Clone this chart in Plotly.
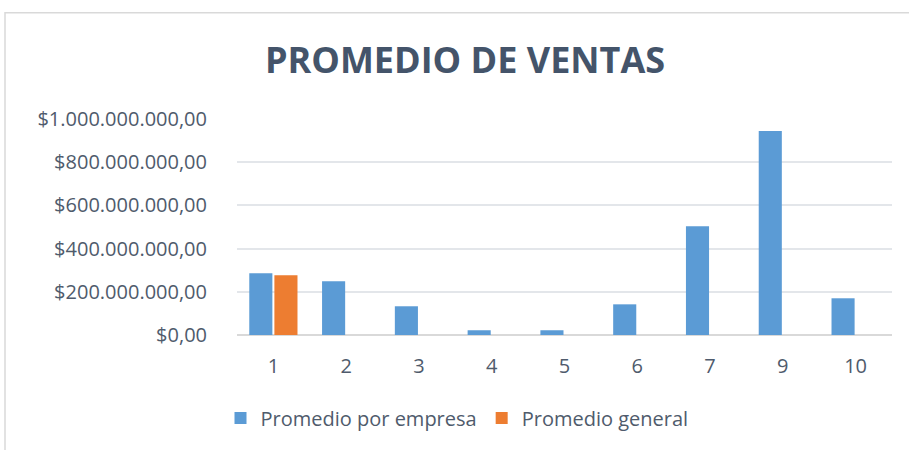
import plotly.graph_objects as go

categorias = ["1", "2", "3", "4", "5", "6", "7", "9", "10"]
promedio_empresa = [286e6, 249e6, 133e6, 22e6, 22e6, 142e6, 504e6, 945e6, 170e6]
promedio_general = [277e6, None, None, None, None, None, None, None, None]
tick_vals = [0, 200e6, 400e6, 600e6, 800e6, 1000e6]
tick_text = ["$0,00", "$200.000.000,00", "$400.000.000,00", "$600.000.000,00",
             "$800.000.000,00", "$1.000.000.000,00"]

text_color = "#4f5b6c"
font_family = "Open Sans"

fig = go.Figure()

fig.add_trace(go.Bar(
    x=categorias, y=promedio_empresa, name="Promedio por empresa",
    marker=dict(color="#5b9bd5", line=dict(width=0))
))
fig.add_trace(go.Bar(
    x=categorias, y=promedio_general, name="Promedio general",
    marker=dict(color="#ed7d31", line=dict(width=0))
))

# outer chart border
fig.add_shape(
    type="rect", xref="paper", yref="paper",
    x0=-232 / 655, x1=1.5, y0=-1.0, y1=(334.7 - 13) / 215.7,
    line=dict(color="#d9d9d9", width=1.5), layer="below"
)

fig.update_layout(
    width=909, height=450,
    margin=dict(l=237, r=17, t=119, b=115),
    paper_bgcolor="white", plot_bgcolor="white",
    barmode="group", bargap=0.31, bargroupgap=0.08,
    font=dict(family=font_family, color=text_color, size=20),
    title=dict(
        text="<b>PROMEDIO DE VENTAS</b>",
        x=465 / 909, xanchor="center", xref="container",
        y=1 - 60 / 450, yanchor="middle", yref="container",
        font=dict(family=font_family, size=36, color="#44546a")
    ),
    legend=dict(
        orientation="h", xref="container", yref="container",
        x=457 / 909, xanchor="center", y=1 - 418 / 450, yanchor="middle",
        font=dict(size=20, color=text_color), itemwidth=30,
        traceorder="normal"
    ),
    showlegend=True
)

fig.update_yaxes(
    range=[0, 1000e6], tickvals=tick_vals, ticktext=tick_text,
    showgrid=True, gridcolor="#e3e6ea", gridwidth=1.5,
    zeroline=True, zerolinecolor="#d9d9d9", zerolinewidth=1.5,
    showline=False, ticks="", ticklabelstandoff=29,
    tickfont=dict(size=20, color=text_color)
)
fig.update_xaxes(
    showgrid=False, showline=False, ticks="", ticklabelstandoff=17,
    tickfont=dict(size=20, color=text_color)
)

fig.write_html("out.html", config={"displayModeBar": False},
               post_script="document.body.style.margin='0';")
